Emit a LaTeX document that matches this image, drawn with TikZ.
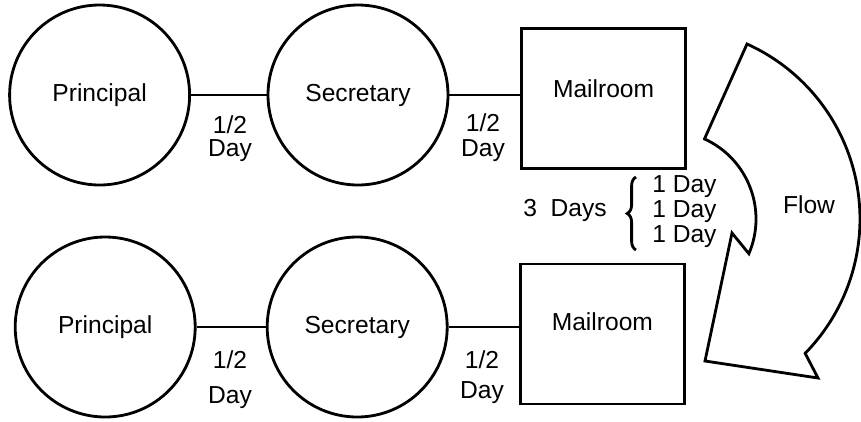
\documentclass[tikz,border=0pt]{standalone}
\usepackage{fontspec}
\setmainfont{Liberation Sans}
\usetikzlibrary{decorations.pathreplacing}

\begin{document}
\begin{tikzpicture}[
	every node/.style={font=\fontsize{17.5}{20}\selectfont},
	office/.style={draw, circle, line width=2pt, minimum size=4.5cm, inner sep=0pt},
	mailbox/.style={draw, rectangle, line width=2pt, minimum width=4.1cm, minimum height=3.5cm},
	link/.style={line width=2pt},
	halfday/.style={inner sep=0pt, anchor=north, align=center}]
			
			\useasboundingbox (0,0) rectangle (21.525,-10.525);
			
			%Upper chain
			\node (principalUp) at (2.49,-2.375) [office]{Principal};
			\node (secretaryUp) at (8.95,-2.375) [office]{Secretary};
			\node (mailroomUp) at (15.09,-2.46) [mailbox, label={[yshift=0.24cm]center:Mailroom}]{};
			
			%Lower chain
			\node (principalDown) at (2.63,-8.175) [office]{Principal};
			\node (secretaryDown) at (8.93,-8.175) [office]{Secretary};
			\node (mailroomDown) at (15.06,-8.35) [mailbox, label={[yshift=0.3cm]center:Mailroom}]{};
			
			%Links among blocks
			\draw[link] (principalUp) -- (secretaryUp);
			\draw[link] (secretaryUp.east) -- (mailroomUp.west |- secretaryUp.east);
			\draw[link] (principalDown) -- (secretaryDown);
			\draw[link] (secretaryDown.east) -- (mailroomDown.west |- secretaryDown.east);
			
			%Half day labels
			\node (halfUpLeft) at (5.75,-2.875) [halfday, font=\fontsize{17.5}{16.4}\selectfont]{1/2\\Day};
			\node (halfUpRight) at (12.075,-2.825) [halfday, font=\fontsize{17.5}{17.8}\selectfont]{1/2\\Day};
			\node (halfDownLeft) at (5.75,-8.75) [halfday, font=\fontsize{17.5}{24.9}\selectfont]{1/2\\Day};
			\node (halfDownRight) at (12.05,-8.75) [halfday, font=\fontsize{17.5}{21.3}\selectfont]{1/2\\Day};
			
			%Transfer between mailrooms
			\node (threeDays) at (14.125,-5.25) {3~~Days};
			\draw[line width=2pt, decorate, decoration={brace, amplitude=0.22cm}] (15.9,-6.25) -- (15.9,-4.425);
			\node (oneDays) at (16.3,-5.3) [anchor=west, align=left, inner sep=0pt, font=\fontsize{17.5}{17.8}\selectfont]{1 Day\\1 Day\\1 Day};
			
			%Flow arrow
			\draw[line width=2pt] (17.612,-3.473) -- (18.675,-1.1) arc[start angle=65.7, end angle=-44.4, radius=4.8] 
			-- (20.45,-9.45) -- (17.625,-9.025) -- (18.3,-5.825) -- (18.722,-6.342) 
			arc[start angle=-23.2, end angle=65.5, radius=2.2] -- cycle;
			\node (flow) at (20.225,-5.125) {Flow};
			
\end{tikzpicture}
\end{document}
